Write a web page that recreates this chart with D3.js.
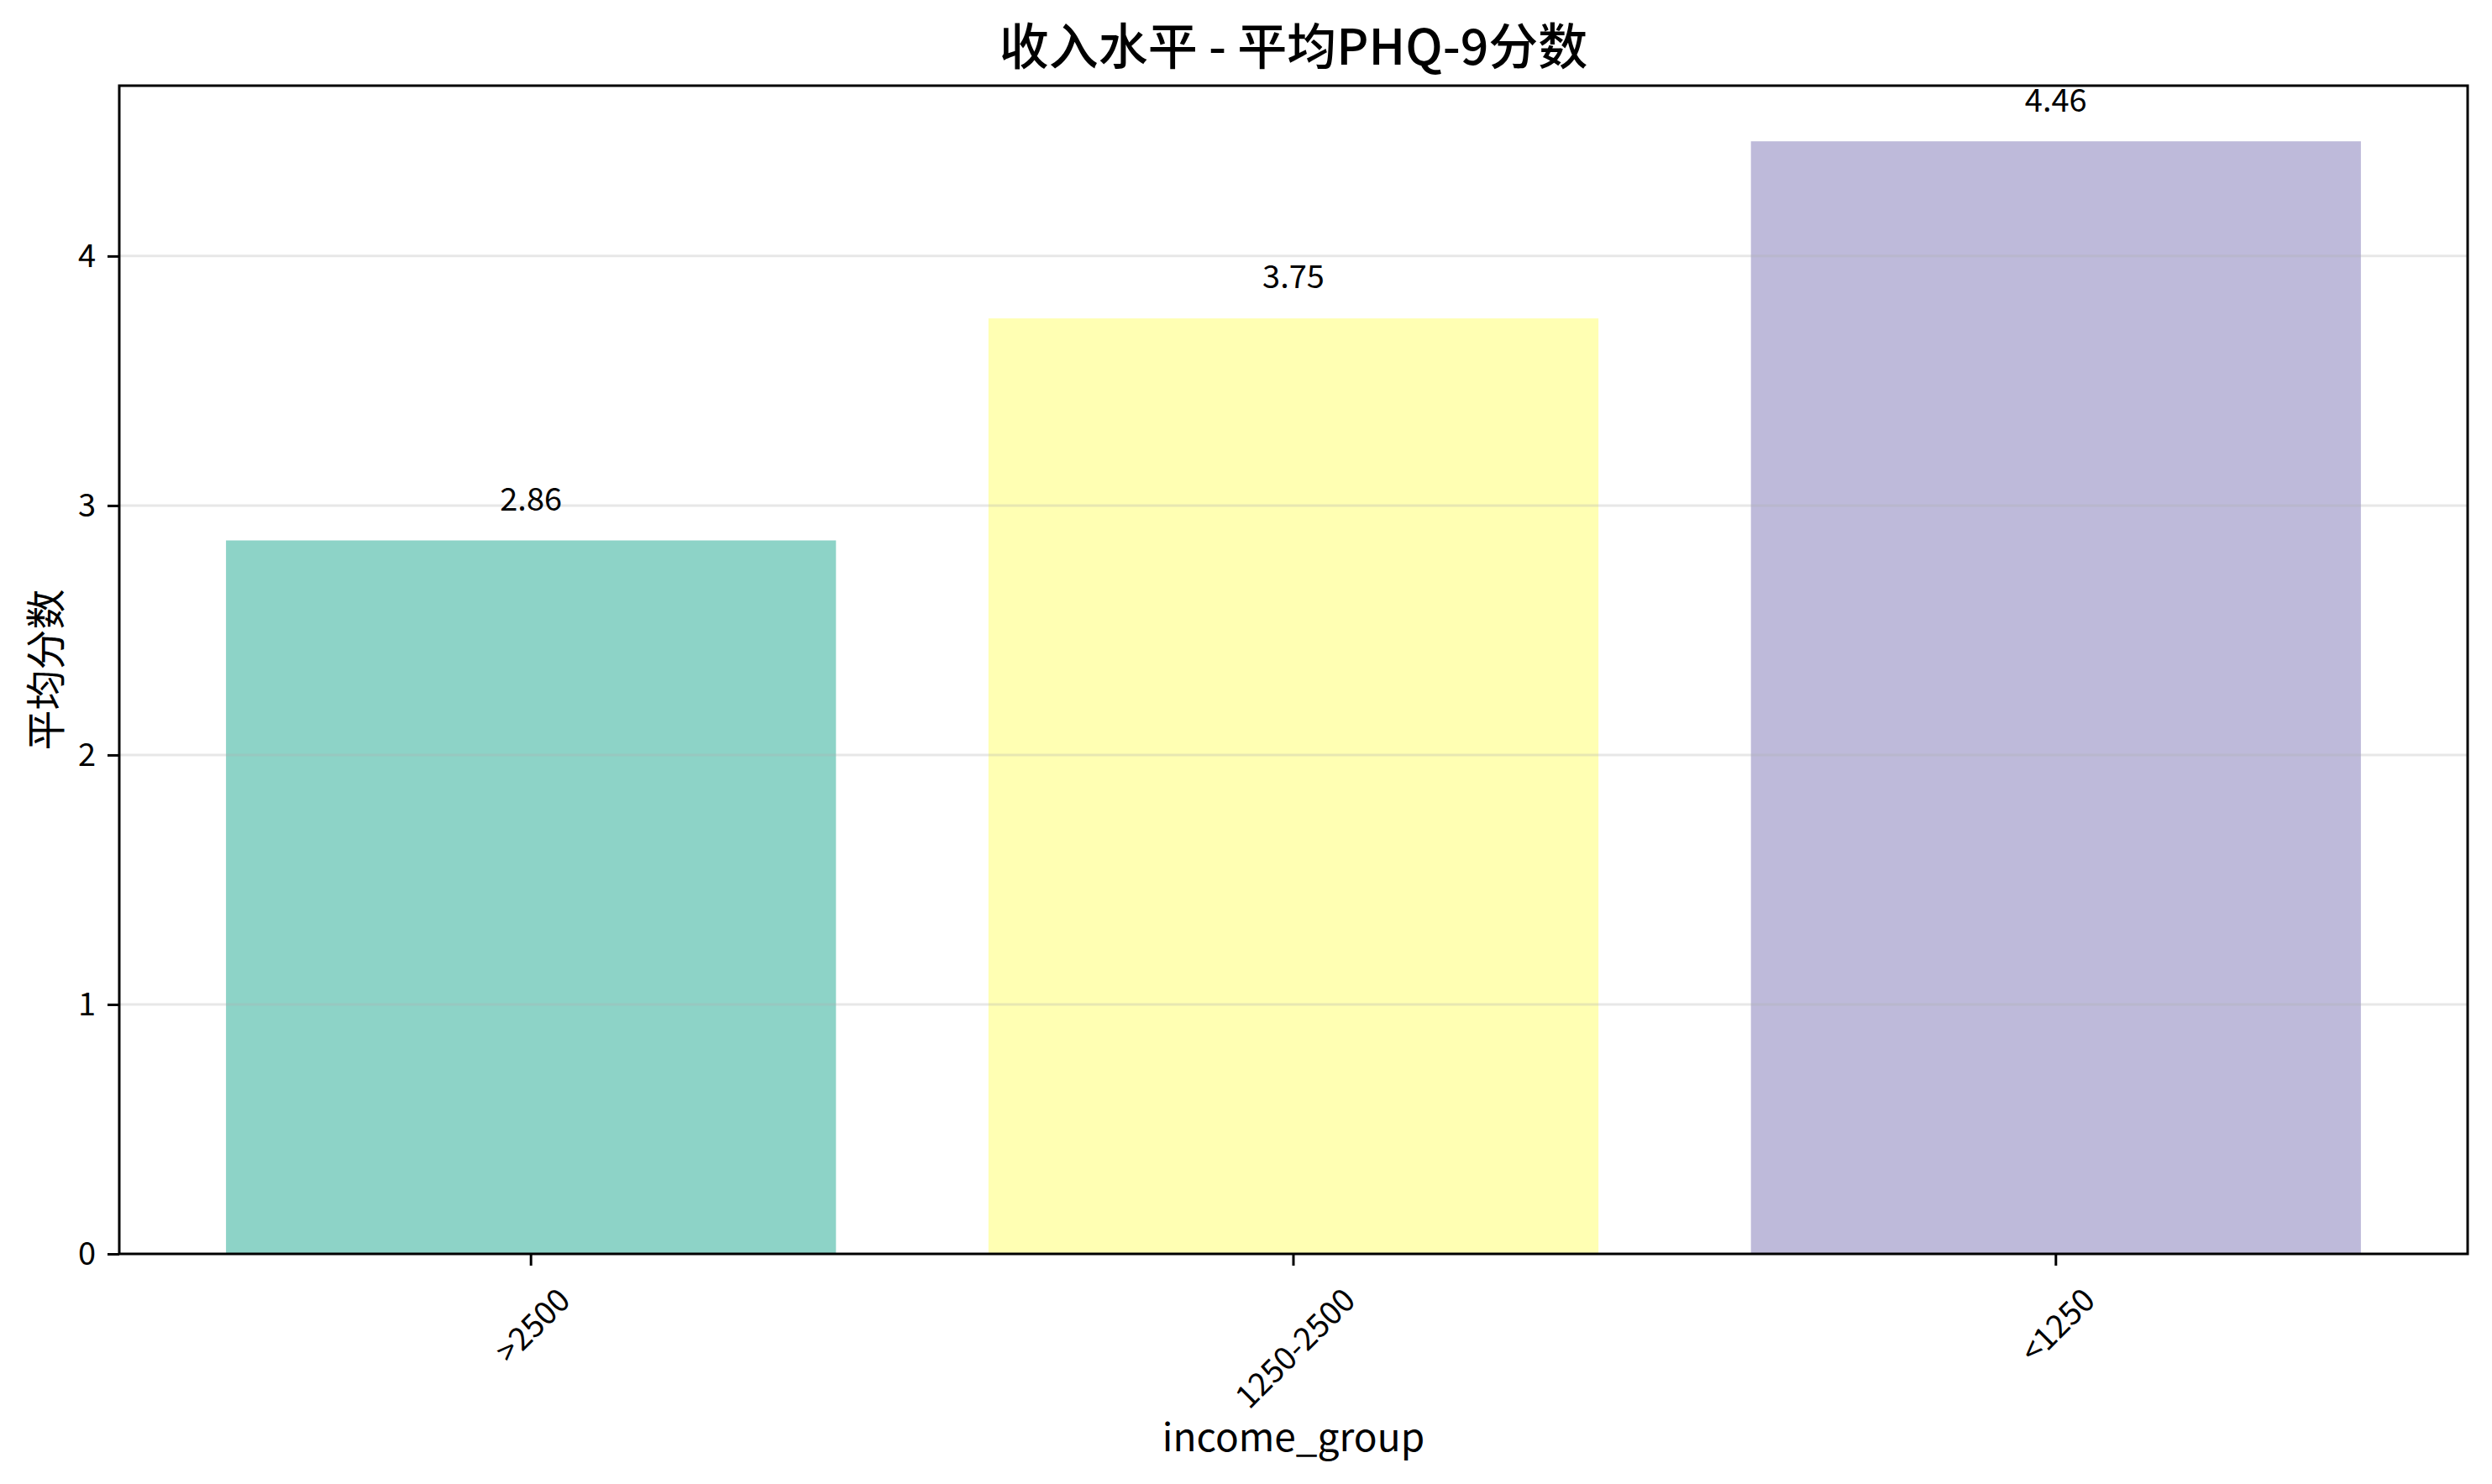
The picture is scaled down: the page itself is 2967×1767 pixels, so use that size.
<!DOCTYPE html>
<html>
<head>
<meta charset="utf-8">
<script src="https://cdn.jsdelivr.net/npm/d3@7"></script>
<style>
  body { margin: 0; background: #fff; }
  text { font-family: "Noto Sans CJK SC", "DejaVu Sans", sans-serif; fill: #000; }
</style>
</head>
<body>
<div id="chart"></div>
<script>
// data
var groups = ['>2500', '1250-2500', '<1250'];
var meanScores = [2.86, 3.75, 4.46];
var barColors = ['#8dd3c7', '#ffffb3', '#bebada'];
var yTicks = [0, 1, 2, 3, 4];

var W = 2967, H = 1767;
var m = { left: 142, right: 2938, top: 102, bottom: 1493 };

var svg = d3.select('#chart')
  .append('svg')
  .attr('width', W)
  .attr('height', H);

var x = d3.scaleBand()
  .domain(groups)
  .range([m.left, m.right])
  .paddingInner(0.2)
  .paddingOuter(0.14);

var y = d3.scaleLinear()
  .domain([0, d3.max(meanScores) * 1.05])
  .range([m.bottom, m.top]);

// bars
svg.append('g')
  .selectAll('rect')
  .data(groups)
  .enter()
  .append('rect')
  .attr('x', function(d) { return x(d); })
  .attr('y', function(d, i) { return y(meanScores[i]); })
  .attr('width', x.bandwidth())
  .attr('height', function(d, i) { return y(0) - y(meanScores[i]); })
  .style('fill', function(d, i) { return barColors[i]; });

// grid (drawn over the bars, like matplotlib does)
svg.append('g')
  .selectAll('line')
  .data(yTicks.slice(1))
  .enter()
  .append('line')
  .attr('x1', m.left)
  .attr('x2', m.right)
  .attr('y1', function(d) { return y(d); })
  .attr('y2', function(d) { return y(d); })
  .style('stroke', '#b0b0b0')
  .style('stroke-opacity', 0.3)
  .style('stroke-width', 3);

// value labels
svg.append('g')
  .selectAll('text')
  .data(groups)
  .enter()
  .append('text')
  .attr('x', function(d) { return x(d) + x.bandwidth() / 2; })
  .attr('y', function(d, i) { return y(meanScores[i] + 0.1) - 6; })
  .attr('text-anchor', 'middle')
  .style('font-size', '38px')
  .text(function(d, i) { return meanScores[i].toFixed(2); });

// y axis
var yAxis = svg.append('g')
  .attr('transform', 'translate(' + m.left + ',0)')
  .call(d3.axisLeft(y).tickValues(yTicks).tickFormat(d3.format('d'))
    .tickSize(14).tickSizeOuter(0).tickPadding(14));
yAxis.select('.domain').remove();
yAxis.selectAll('.tick line').style('stroke', '#000').style('stroke-width', 3);
yAxis.selectAll('.tick text').style('font-size', '38px').attr('font-family', null);

// x axis
var xAxis = svg.append('g')
  .attr('transform', 'translate(0,' + m.bottom + ')')
  .call(d3.axisBottom(x).tickSize(14).tickSizeOuter(0));
xAxis.select('.domain').remove();
xAxis.selectAll('.tick line').style('stroke', '#000').style('stroke-width', 3);
xAxis.selectAll('.tick text')
  .style('font-size', '38px')
  .attr('font-family', null)
  .each(function() {
    var t = d3.select(this);
    t.attr('y', 0).attr('dy', null)
      .attr('text-anchor', 'middle')
      .attr('dominant-baseline', 'central');
    var w = this.getComputedTextLength();
    var half = (w + 28) * Math.SQRT1_2 / 2;
    t.attr('transform', 'translate(0,' + (36 + half) + ') rotate(-45)');
  });

// frame
svg.append('rect')
  .attr('x', m.left)
  .attr('y', m.top)
  .attr('width', m.right - m.left)
  .attr('height', m.bottom - m.top)
  .style('fill', 'none')
  .style('stroke', '#000')
  .style('stroke-width', 3);

// titles
svg.append('text')
  .attr('x', (m.left + m.right) / 2)
  .attr('y', 77)
  .attr('text-anchor', 'middle')
  .style('font-size', '59px')
  .style('font-weight', 500)
  .text('收入水平 - 平均PHQ-9分数');

svg.append('text')
  .attr('x', (m.left + m.right) / 2)
  .attr('y', 1728)
  .attr('text-anchor', 'middle')
  .style('font-size', '46px')
  .text('income_group');

svg.append('text')
  .attr('transform', 'translate(72,' + ((m.top + m.bottom) / 2) + ') rotate(-90)')
  .attr('text-anchor', 'middle')
  .style('font-size', '48px')
  .text('平均分数');
</script>
</body>
</html>
